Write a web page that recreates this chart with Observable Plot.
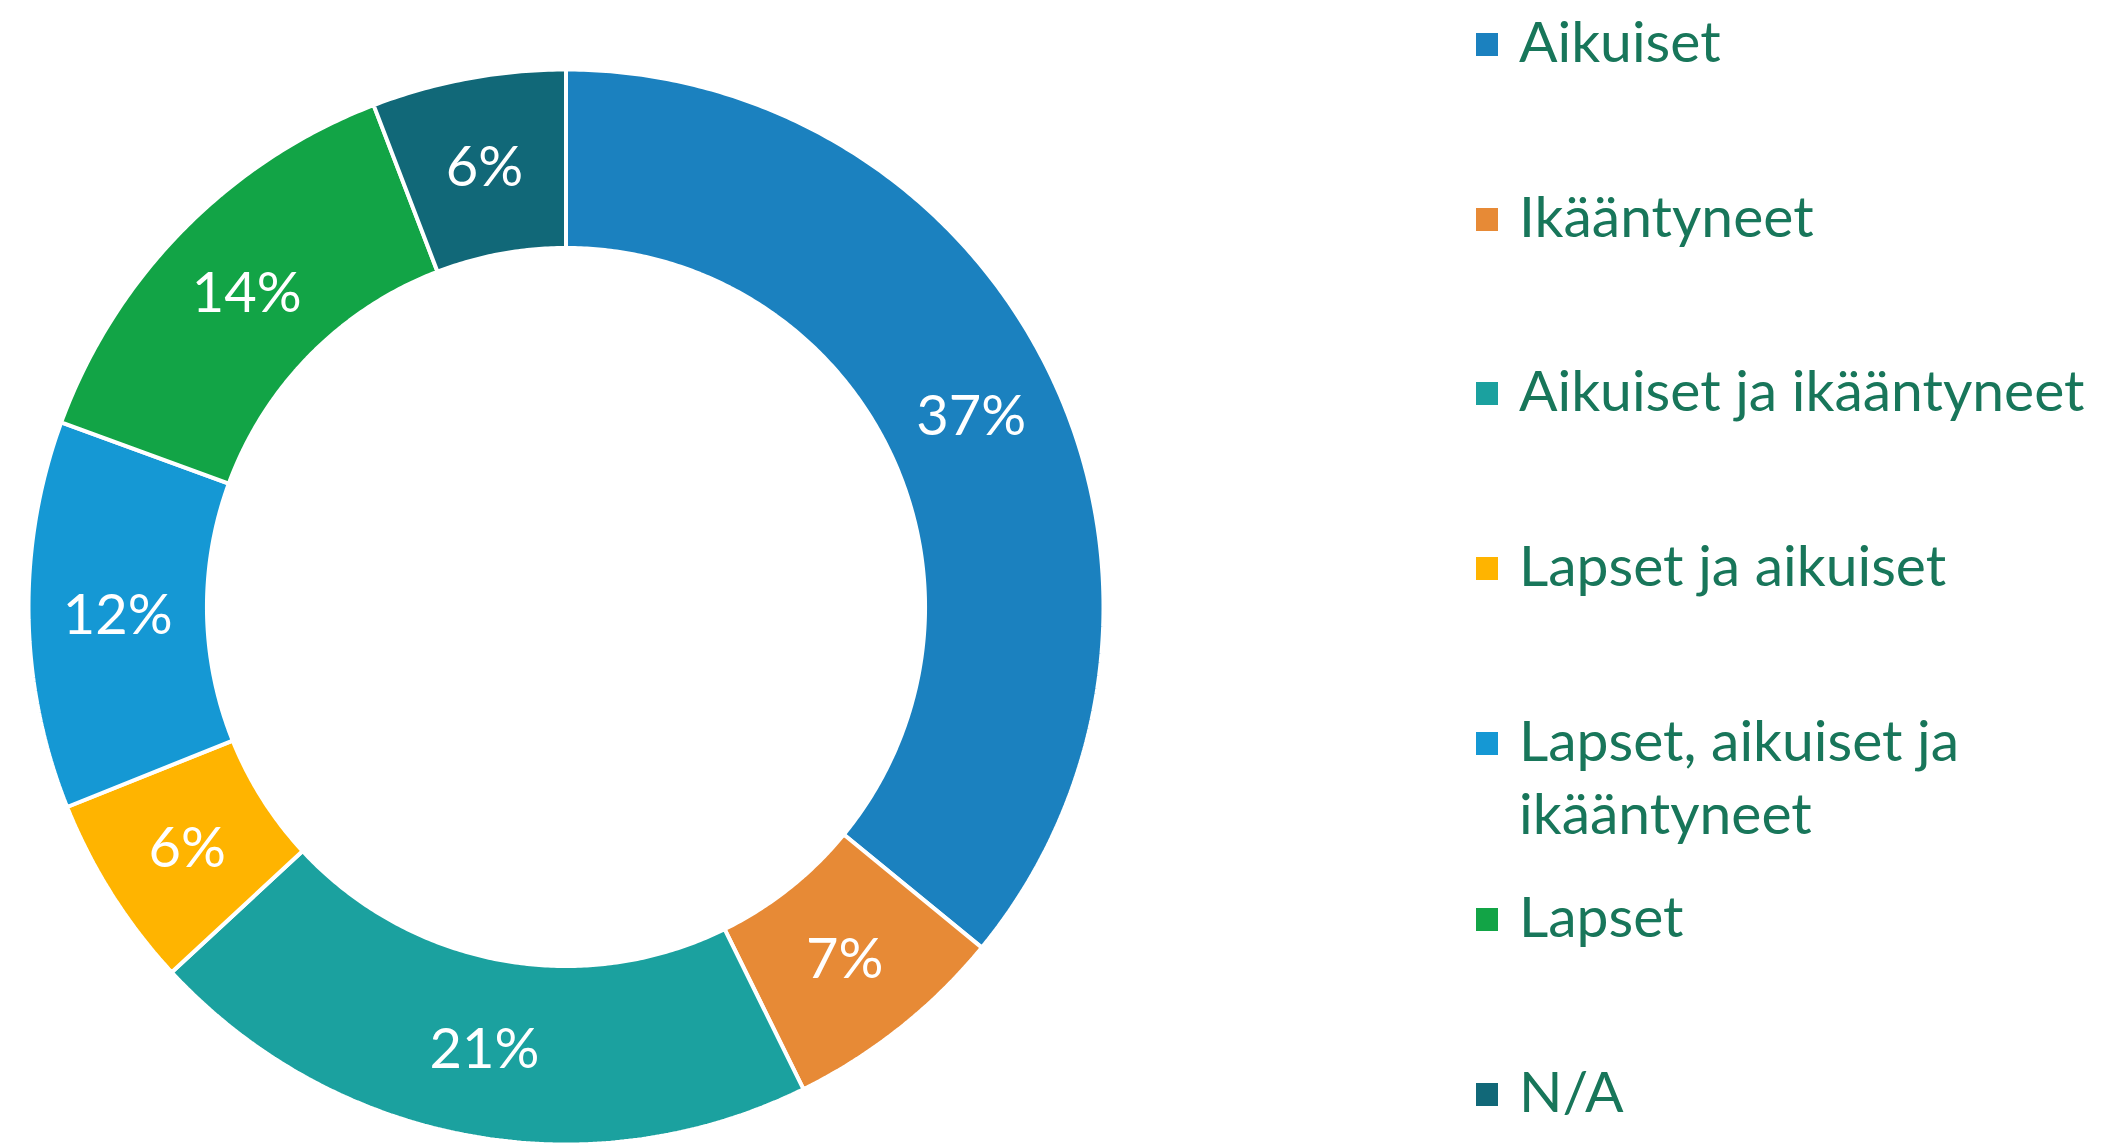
<!DOCTYPE html>
<html>
<head>
<meta charset="utf-8">
<script src="https://cdn.jsdelivr.net/npm/d3@7"></script>
<script src="https://cdn.jsdelivr.net/npm/@observablehq/plot@0.6"></script>
<style>
  html, body { margin: 0; padding: 0; background: #ffffff; }
  #wrap { position: relative; width: 2124px; height: 1143px; overflow: hidden; }
  #chart { position: absolute; left: 0; top: 0; }
  #legend { position: absolute; left: 0; top: 0; }
</style>
</head>
<body>
<div id="wrap">
  <div id="chart"></div>
  <svg id="legend" width="2124" height="1143"></svg>
</div>
<script>
// ---- data ----
const categories = [
  "Aikuiset",
  "Ikääntyneet",
  "Aikuiset ja ikääntyneet",
  "Lapset ja aikuiset",
  "Lapset, aikuiset ja ikääntyneet",
  "Lapset",
  "N/A"
];
const values = [37, 7, 21, 6, 12, 14, 6];
const labels = ["37%", "7%", "21%", "6%", "12%", "14%", "6%"];
const colors = ["#1b81bf", "#e78a36", "#1ba19f", "#ffb400", "#1598d4", "#12a446", "#116878"];
const legendLines = [
  ["Aikuiset"],
  ["Ikääntyneet"],
  ["Aikuiset ja ikääntyneet"],
  ["Lapset ja aikuiset"],
  ["Lapset, aikuiset ja", "ikääntyneet"],
  ["Lapset"],
  ["N/A"]
];

// ---- geometry (layout) ----
const innerRatio = 0.668;
const pie = d3.pie().sort(null).value(d => d.value);
const table = categories.map((c, i) => ({category: c, value: values[i], label: labels[i], color: colors[i]}));
const arcs = pie(table);

// polygon outlines of each ring slice in unit coordinates (y up, angle 0 at top, clockwise)
const outline = [];
arcs.forEach(a => {
  const n = Math.max(8, Math.ceil((a.endAngle - a.startAngle) * 120));
  for (let k = 0; k <= n; k++) {
    const t = a.startAngle + (a.endAngle - a.startAngle) * k / n;
    outline.push({category: a.data.category, x: Math.sin(t), y: Math.cos(t)});
  }
  for (let k = n; k >= 0; k--) {
    const t = a.startAngle + (a.endAngle - a.startAngle) * k / n;
    outline.push({category: a.data.category, x: innerRatio * Math.sin(t), y: innerRatio * Math.cos(t)});
  }
  const t0 = a.startAngle;
  outline.push({category: a.data.category, x: Math.sin(t0), y: Math.cos(t0)});
});
const labelPos = arcs.map(a => {
  const m = (a.startAngle + a.endAngle) / 2;
  const r = (1 + innerRatio) / 2;
  return {label: a.data.label, x: r * Math.sin(m), y: r * Math.cos(m)};
});

const cx = 565.5, cy = 606.5, R = 537.5;

const plot = Plot.plot({
  width: 2124,
  height: 1143,
  margin: 0,
  x: {domain: [-1, 1], range: [cx - R, cx + R], axis: null},
  y: {domain: [-1, 1], range: [cy + R, cy - R], axis: null},
  color: {domain: categories, range: colors},
  style: {fontFamily: "Lato, 'Open Sans', sans-serif", background: "transparent"},
  marks: [
    Plot.line(outline, {x: "x", y: "y", z: "category", fill: "category", stroke: "#ffffff", strokeWidth: 4, strokeLinejoin: "miter", curve: "linear"}),
    Plot.text(labelPos, {x: "x", y: "y", text: "label", fill: "#ffffff", fontSize: 56, textAnchor: "middle", lineAnchor: "middle", dy: 2})
  ]
});
document.getElementById("chart").appendChild(plot);

// ---- legend ----
const baselines = [62, 237, 411, 586, 761, 937, 1112];
const lg = d3.select("#legend");
legendLines.forEach((lines, i) => {
  lg.append("rect")
    .attr("x", 1476).attr("y", baselines[i] - 29)
    .attr("width", 22).attr("height", 23)
    .attr("fill", colors[i]);
  const t = lg.append("text")
    .attr("x", 1519).attr("y", baselines[i])
    .attr("fill", "#18765a")
    .attr("font-family", "Lato, 'Open Sans', sans-serif")
    .attr("font-size", 57);
  lines.forEach((l, j) => {
    t.append("tspan").attr("x", 1519).attr("y", baselines[i] + j * 73).text(l);
  });
});
</script>
</body>
</html>
